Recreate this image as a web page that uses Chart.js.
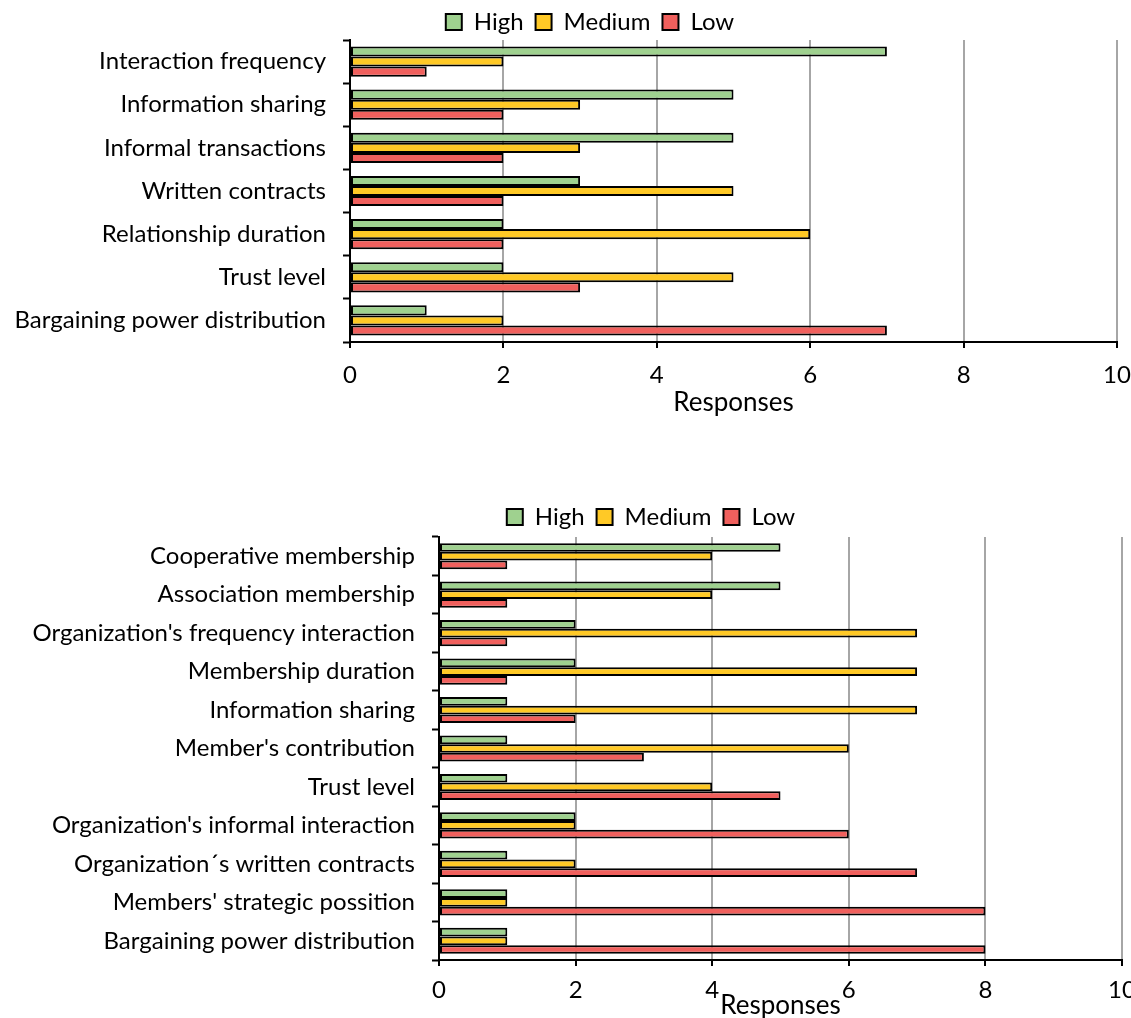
<!DOCTYPE html>
<html>
<head>
<meta charset="utf-8">
<script src="https://cdn.jsdelivr.net/npm/chart.js@4.4.1/dist/chart.umd.min.js"></script>
<style>
  html, body { margin: 0; padding: 0; background: #ffffff; overflow: hidden; width: 1131px; height: 1018px; }
  canvas { position: absolute; left: 0; }
  #dyadic { top: 0; }
  #collective { top: 490px; }
</style>
</head>
<body>
<canvas id="dyadic" width="1160" height="420"></canvas>
<canvas id="collective" width="1160" height="531"></canvas>
<script>
// Dyadic relationship attributes
const dyadicCategories = [
  'Interaction frequency',
  'Information sharing',
  'Informal transactions',
  'Written contracts',
  'Relationship duration',
  'Trust level',
  'Bargaining power distribution'
];
const dyadicHigh   = [7, 5, 5, 3, 2, 2, 1];
const dyadicMedium = [2, 3, 3, 5, 6, 5, 2];
const dyadicLow    = [1, 2, 2, 2, 2, 3, 7];

// Collective (organization) attributes
const collectiveCategories = [
  'Cooperative membership',
  'Association membership',
  "Organization's frequency interaction",
  'Membership duration',
  'Information sharing',
  "Member's contribution",
  'Trust level',
  "Organization's informal interaction",
  'Organization\u00b4s written contracts',
  "Members' strategic possition",
  'Bargaining power distribution'
];
const collectiveHigh   = [5, 5, 2, 2, 1, 1, 1, 2, 1, 1, 1];
const collectiveMedium = [4, 4, 7, 7, 7, 6, 4, 2, 2, 1, 1];
const collectiveLow    = [1, 1, 1, 1, 2, 3, 5, 6, 7, 8, 8];

const seriesNames = ['High', 'Medium', 'Low'];
const xTicks = [0, 2, 4, 6, 8, 10];
const axisTitle = 'Responses';

const FILLS = ['#9fd18f', '#ffc926', '#f0605d'];
const FONT = 'Lato, "Open Sans", sans-serif';

// moves the full-width legend: centred on a chosen x, nudged down by dy
const legendShift = {
  id: 'legendShift',
  afterLayout(chart, args, opts) {
    const lg = chart.legend;
    if (!lg) return;
    const dx = opts.centerX - (lg.left + lg.right) / 2;
    lg.left += dx;
    lg.right += dx;
    lg.top += opts.dy;
    lg.bottom += opts.dy;
  }
};

function makeChart(id, labels, high, medium, low, cfg) {
  const values = [high, medium, low];
  return new Chart(document.getElementById(id), {
    type: 'bar',
    data: {
      labels: labels,
      datasets: seriesNames.map((name, i) => ({
        label: name,
        data: values[i],
        backgroundColor: FILLS[i],
        borderColor: '#000000',
        borderWidth: 2,
        borderSkipped: false,
        barPercentage: 1.0,
        categoryPercentage: cfg.catPct
      }))
    },
    plugins: [legendShift],
    options: {
      indexAxis: 'y',
      responsive: false,
      animation: false,
      layout: { padding: { top: cfg.padTop, right: cfg.padRight, bottom: 0, left: 0 } },
      plugins: {
        legend: {
          position: 'top',
          labels: {
            color: '#000000',
            font: { family: FONT, size: 24 },
            boxWidth: 16,
            boxHeight: 16,
            padding: 12
          }
        },
        legendShift: { centerX: cfg.legendCenter, dy: cfg.legendDy },
        tooltip: { enabled: false }
      },
      scales: {
        x: {
          type: 'linear',
          min: 0,
          max: 10,
          afterBuildTicks: s => { s.ticks = xTicks.map(v => ({ value: v })); },
          afterFit: s => { s.height = cfg.xHeight; },
          grid: {
            color: '#a6a6a6',
            lineWidth: 2,
            drawTicks: true,
            tickLength: 6,
            tickColor: '#000000',
            tickWidth: 2
          },
          border: { display: true, color: '#000000', width: 2 },
          ticks: {
            color: '#000000',
            font: { family: FONT, size: 24 },
            padding: cfg.tickPad,
            maxRotation: 0
          },
          title: {
            display: true,
            text: axisTitle,
            color: '#000000',
            font: { family: FONT, size: 26 },
            padding: { top: 0, bottom: cfg.titlePadBottom }
          }
        },
        y: {
          type: 'category',
          afterFit: s => { s.width = cfg.yWidth; },
          grid: {
            offset: true,
            drawOnChartArea: false,
            drawTicks: true,
            tickLength: 7,
            tickColor: '#000000',
            tickWidth: 2
          },
          border: { display: true, color: '#000000', width: 2 },
          ticks: {
            color: '#000000',
            font: { family: FONT, size: 24 },
            padding: 17
          }
        }
      }
    }
  });
}

makeChart('dyadic', dyadicCategories, dyadicHigh, dyadicMedium, dyadicLow, {
  catPct: 0.7, padTop: -6, padRight: 43, yWidth: 350, xHeight: 78,
  tickPad: 13, titlePadBottom: 2, legendCenter: 590, legendDy: 4
});

makeChart('collective', collectiveCategories, collectiveHigh, collectiveMedium, collectiveLow, {
  catPct: 0.68, padTop: 1, padRight: 38, yWidth: 439, xHeight: 61,
  tickPad: 10, titlePadBottom: 0, legendCenter: 651, legendDy: 2
});
</script>
</body>
</html>
